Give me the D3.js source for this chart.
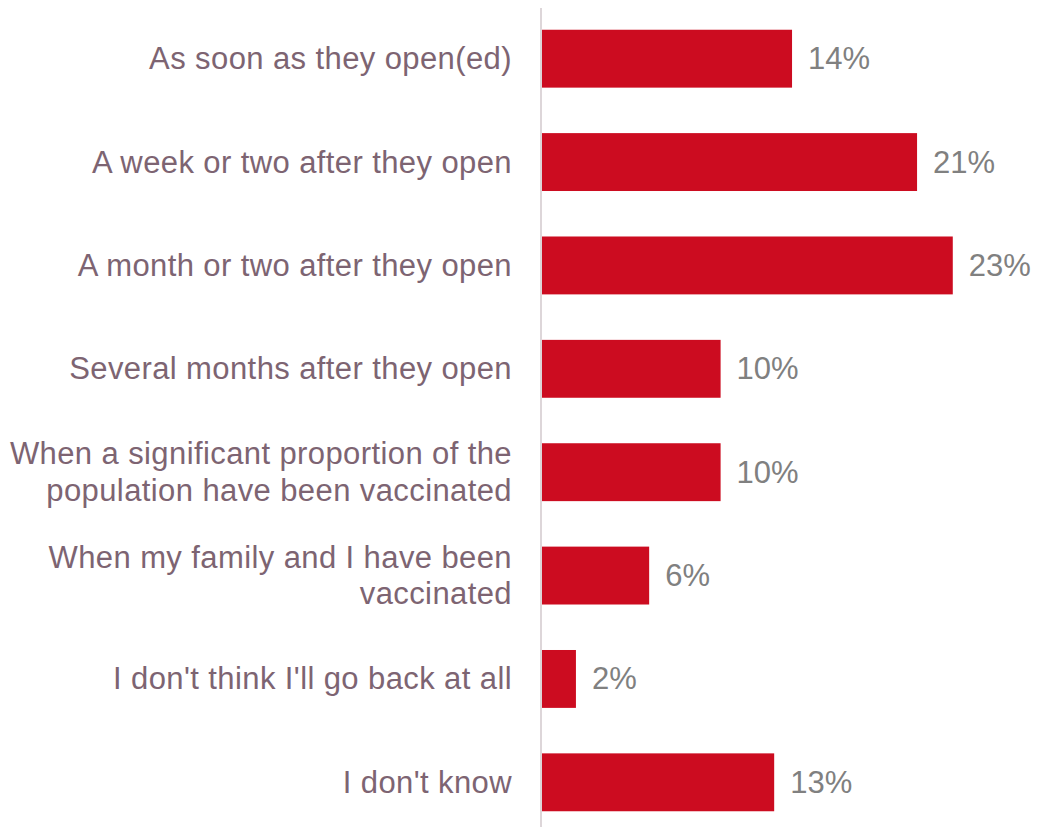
<!DOCTYPE html>
<html>
<head>
<meta charset="utf-8">
<script src="https://cdn.jsdelivr.net/npm/d3@7"></script>
<style>
html,body{margin:0;padding:0;background:#fff;}
svg{display:block;}
</style>
</head>
<body>
<svg id="chart" width="1038" height="827"></svg>
<script>
const categories = [
  ["As soon as they open(ed)"],
  ["A week or two after they open"],
  ["A month or two after they open"],
  ["Several months after they open"],
  ["When a significant proportion of the", "population have been vaccinated"],
  ["When my family and I have been", "vaccinated"],
  ["I don't think I'll go back at all"],
  ["I don't know"]
];
const values = [14, 21, 23, 10, 10, 6, 1.9, 13];
const valueLabels = ["14%", "21%", "23%", "10%", "10%", "6%", "2%", "13%"];

const W = 1038, H = 827;
const x0 = 542;
const svg = d3.select("#chart");

const y = d3.scaleBand()
  .domain(d3.range(categories.length))
  .range([7, 834])
  .paddingInner(0.44)
  .paddingOuter(0.22);

const x = d3.scaleLinear().domain([0, 10]).range([x0, x0 + 178.6]);

const fontFam = "'Liberation Sans', Arial, Helvetica, sans-serif";

svg.selectAll("rect.bar")
  .data(values)
  .enter().append("rect")
  .attr("class", "bar")
  .attr("x", x(0))
  .attr("y", (d, i) => y(i))
  .attr("width", d => x(d) - x(0))
  .attr("height", y.bandwidth())
  .attr("fill", "#cc0c20");

// axis line
svg.append("line")
  .attr("x1", 541).attr("x2", 541)
  .attr("y1", 8).attr("y2", H)
  .attr("stroke", "#ddd6d9").attr("stroke-width", 2);

// category labels
const lab = svg.selectAll("text.cat")
  .data(categories)
  .enter().append("text")
  .attr("class", "cat")
  .attr("text-anchor", "end")
  .attr("font-family", fontFam)
  .attr("font-size", 31)
  .attr("letter-spacing", "0.4px")
  .attr("fill", "#7d6472");
lab.each(function(lines, i) {
  const c = y(i) + y.bandwidth() / 2;
  const n = lines.length;
  lines.forEach((t, j) => {
    d3.select(this).append("tspan")
      .attr("x", 512)
      .attr("y", c + 10.5 + (j - (n - 1) / 2) * 36.5)
      .text(t);
  });
});

// value labels
svg.selectAll("text.val")
  .data(values)
  .enter().append("text")
  .attr("class", "val")
  .attr("x", d => x(d) + 16)
  .attr("y", (d, i) => y(i) + y.bandwidth() / 2 + 10.5)
  .attr("font-family", fontFam)
  .attr("font-size", 31)
  .attr("fill", "#808080")
  .text((d, i) => valueLabels[i]);
</script>
</body>
</html>
